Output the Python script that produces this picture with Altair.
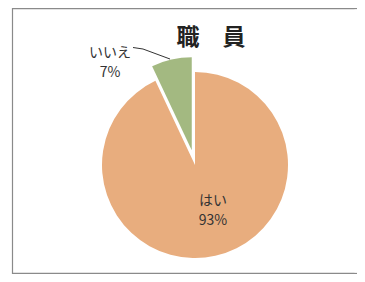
import math
import altair as alt
import pandas as pd

categories = ["はい", "いいえ"]
values = [93, 7]
pct_labels = ["93%", "7%"]
title_text = "職　員"
slice_colors = ["#E8AD7E", "#A3B981"]

df = pd.DataFrame({"cat": categories, "value": values, "pct": pct_labels, "order": [0, 1]})

W, H = 349, 266
cx, cy, R = 187, 157, 93
explode = 15
total = sum(values)
mid = (values[0] + values[1] / 2) / total * 2 * math.pi
dx = explode * math.sin(mid)
dy = -explode * math.cos(mid)

base = alt.Chart(df).transform_window(
    t1="sum(value)", sort=[alt.SortField("order")], frame=[None, 0]
).transform_calculate(t0="datum.t1 - datum.value", txt="datum.cat + '\\n' + datum.pct")

color = alt.Color("cat:N", scale=alt.Scale(domain=categories, range=slice_colors), legend=None)
theta = alt.Theta("t0:Q", scale=alt.Scale(domain=[0, total]))

main = base.transform_filter(alt.datum.cat == categories[0]).mark_arc(radius=R).encode(
    theta=theta, theta2="t1:Q", color=color, x=alt.value(cx), y=alt.value(cy)
)
expl = base.transform_filter(alt.datum.cat == categories[1]).mark_arc(radius=R).encode(
    theta=theta, theta2="t1:Q", color=color, x=alt.value(cx + dx), y=alt.value(cy + dy)
)

font = "Noto Sans CJK JP"
lab_yes = base.transform_filter(alt.datum.cat == categories[0]).mark_text(
    font=font, fontSize=14, color="#333333", lineBreak="\n", lineHeight=20, baseline="middle"
).encode(text="txt:N", x=alt.value(205), y=alt.value(193))
lab_no = base.transform_filter(alt.datum.cat == categories[1]).mark_text(
    font=font, fontSize=14, color="#333333", lineBreak="\n", lineHeight=20, baseline="middle"
).encode(text="txt:N", x=alt.value(102), y=alt.value(45))

one = alt.Chart(pd.DataFrame({"t": [title_text]}))
title = one.mark_text(font=font, fontSize=23, fontWeight="bold", color="#222222").encode(
    text="t:N", x=alt.value(203), y=alt.value(30)
)
frame_style = dict(color="#8a8a8a", strokeWidth=1.2)
f_left = one.mark_rule(**frame_style).encode(
    x=alt.value(4.5), y=alt.value(0), y2=alt.value(H)
)
f_top = one.mark_rule(**frame_style).encode(
    x=alt.value(4), x2=alt.value(W + 20), y=alt.value(0.6)
)
f_bottom = one.mark_rule(**frame_style).encode(
    x=alt.value(4), x2=alt.value(W + 20), y=alt.value(H - 0.6)
)
cover = one.mark_rule(color="white", strokeWidth=3).encode(
    x=alt.value(W - 1), y=alt.value(1.5), y2=alt.value(H - 1.5)
)
lead1 = one.mark_rule(color="#333333", strokeWidth=1).encode(
    x=alt.value(125), y=alt.value(39.5), x2=alt.value(135), y2=alt.value(41)
)
lead2 = one.mark_rule(color="#333333", strokeWidth=1).encode(
    x=alt.value(135), y=alt.value(41), x2=alt.value(162), y2=alt.value(51)
)

chart = alt.layer(f_left, f_top, f_bottom, cover, main, expl, lead1, lead2, lab_yes, lab_no, title).properties(
    width=W, height=H, autosize=alt.AutoSizeParams(type="none"), padding=0
).configure_view(stroke=None)

chart.save("out.html", embed_options={"renderer": "svg", "actions": False})
